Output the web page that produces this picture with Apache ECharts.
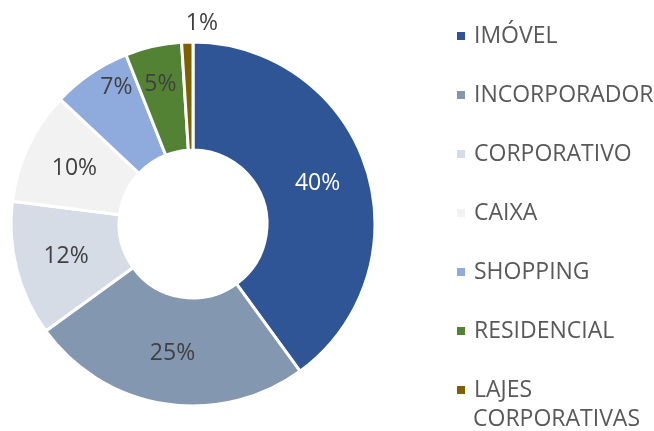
<!DOCTYPE html>
<html><head><meta charset="utf-8">
<script src="https://cdn.jsdelivr.net/npm/echarts@6/dist/echarts.min.js"></script>
<style>html,body{margin:0;padding:0;background:#fff}#c{width:654px;height:431px}</style>
</head><body><div id="c"></div>
<script>
var categories = ['IMÓVEL','INCORPORADOR','CORPORATIVO','CAIXA','SHOPPING','RESIDENCIAL','LAJES CORPORATIVAS'];
var legendLines = [['IMÓVEL'],['INCORPORADOR'],['CORPORATIVO'],['CAIXA'],['SHOPPING'],['RESIDENCIAL'],['LAJES','CORPORATIVAS']];
var values = [40, 25, 12, 10, 7, 5, 1];
var colors = ['#2F5597','#8497B0','#D6DCE5','#F2F2F2','#8FAADC','#548235','#7F6000'];
var labelColors = ['#FFFFFF','#404040','#404040','#404040','#404040','#404040','#404040'];
var labelShift = [[0,0],[0,0],[0,0],[0,0],[-3,-28],[-4,-12],[13,-70]];

var FONT = 'Open Sans';
var FS = 23;
var chart = echarts.init(document.getElementById('c'), null, {renderer:'canvas'});
var data = categories.map(function(n,i){
  return {name:n, value:values[i], itemStyle:{color:colors[i]}, label:{color:labelColors[i]}};
});
var last = legendLines[legendLines.length-1];
chart.setOption({
  animation:false,
  legend:{
    orient:'vertical', left:450, top:19, height:800,
    icon:'rect', itemWidth:10, itemHeight:10, itemGap:35,
    data:categories,
    formatter:function(n){ return legendLines[categories.indexOf(n)][0]; },
    textStyle:{fontFamily:FONT, fontSize:FS, color:'#595959', lineHeight:24, padding:[0,0,0,3]}
  },
  graphic:[{
    type:'text', left:473, top:408, silent:true,
    style:{text:last.slice(1).join('\n'), fontFamily:FONT, fontSize:FS, fill:'#595959'}
  }],
  series:[{
    type:'pie', center:[193,224], radius:[74,182], startAngle:90, clockwise:true,
    avoidLabelOverlap:false,
    itemStyle:{borderColor:'#fff', borderWidth:3},
    label:{show:true, position:'inside', fontFamily:FONT, fontSize:FS,
      formatter:function(p){return Math.round(p.value)+'%';}},
    labelLine:{show:false},
    labelLayout:function(p){ var s=labelShift[p.dataIndex]; return {dx:s[0], dy:s[1]}; },
    emphasis:{disabled:true},
    data:data
  }]
});
</script></body></html>
